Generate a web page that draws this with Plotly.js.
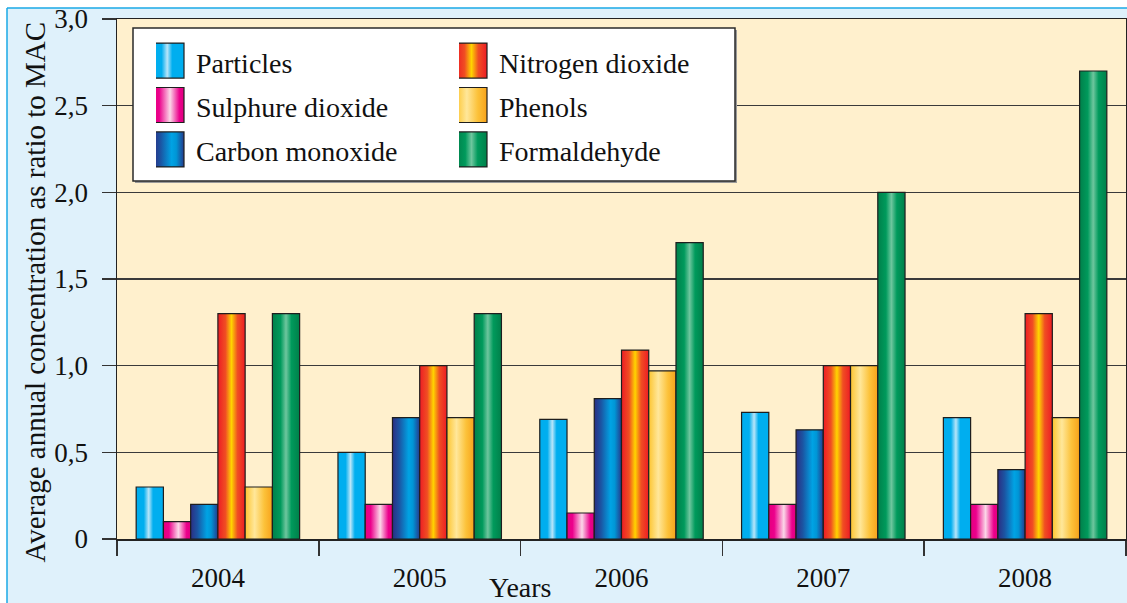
<!DOCTYPE html>
<html>
<head>
<meta charset="utf-8">
<script src="https://cdn.plot.ly/plotly-3.0.1.min.js"></script>
<style>
html,body{margin:0;padding:0;background:#ffffff;}
#chart{width:1127px;height:603px;}
</style>
</head>
<body>
<div id="chart"></div>
<script>
// ---------- data ----------
const years = ['2004', '2005', '2006', '2007', '2008'];
const seriesNames = ['Particles', 'Sulphure dioxide', 'Carbon monoxide', 'Nitrogen dioxide', 'Phenols', 'Formaldehyde'];
const particles       = [0.30, 0.50, 0.69, 0.73, 0.70];
const sulphurDioxide  = [0.10, 0.20, 0.15, 0.20, 0.20];
const carbonMonoxide  = [0.20, 0.70, 0.81, 0.63, 0.40];
const nitrogenDioxide = [1.30, 1.00, 1.09, 1.00, 1.30];
const phenols         = [0.30, 0.70, 0.97, 1.00, 0.70];
const formaldehyde    = [1.30, 1.30, 1.71, 2.00, 2.70];
const yTickValues = [0, 0.5, 1, 1.5, 2, 2.5, 3];
const yTickLabels = ['0', '0,5', '1,0', '1,5', '2,0', '2,5', '3,0'];
const yTitle = 'Average annual concentration as ratio to MAC';
const xTitle = 'Years';

// ---------- styles ----------
const FONT = '"Liberation Serif", "DejaVu Serif", serif';
const solidColors = ['#00aeef', '#ec008c', '#0a6cb4', '#f15a24', '#ffd75e', '#00965a'];
const gradientStops = [
  [[0, '#00aeef'], [0.28, '#00aeef'], [0.46, '#b8e5f9'], [0.62, '#00aeef'], [1, '#00aeef']],
  [[0, '#e6007e'], [0.2, '#ec008c'], [0.55, '#fbd7e8'], [0.85, '#ec008c'], [1, '#e0007f']],
  [[0, '#2b2e83'], [0.25, '#1b55a3'], [0.6, '#00a3e4'], [0.75, '#0096d6'], [1, '#253a8c']],
  [[0, '#ed1c24'], [0.28, '#f04e23'], [0.5, '#ffd400'], [0.72, '#f04e23'], [1, '#ed1c24']],
  [[0, '#fdc530'], [0.35, '#ffe79a'], [0.7, '#fcc23a'], [1, '#f7a21b']],
  [[0, '#00804a'], [0.3, '#009a5c'], [0.5, '#6ec69e'], [0.7, '#009a5c'], [1, '#00804a']]
];

const seriesValues = [particles, sulphurDioxide, carbonMonoxide, nitrogenDioxide, phenols, formaldehyde];

const traces = seriesValues.map((vals, i) => ({
  type: 'bar',
  x: years,
  y: vals,
  name: seriesNames[i],
  legend: i < 3 ? 'legend' : 'legend2',
  legendgroup: 'g' + i,
  marker: { color: solidColors[i], line: { color: '#1e1e1e', width: 1.2 } },
  hoverinfo: 'skip'
}));

// pixel helpers for paper coordinates (plot area: x 117..1126, y 19..539)
const PL = 117, PW = 1009, PB = 539, PH = 520;
const px = v => (v - PL) / PW;
const py = v => (PB - v) / PH;

const legendCommon = {
  xanchor: 'left', yanchor: 'top',
  bgcolor: 'rgba(0,0,0,0)', borderwidth: 0,
  font: { family: FONT, size: 28, color: '#111' },
  traceorder: 'grouped', tracegroupgap: 5
};

const layout = {
  width: 1127, height: 603,
  margin: { l: 117, r: 1, t: 19, b: 64 },
  paper_bgcolor: '#dff1fb',
  plot_bgcolor: '#fff0cd',
  font: { family: FONT, size: 27, color: '#111' },
  barmode: 'group', bargap: 0.19, bargroupgap: 0,
  showlegend: true,
  legend: Object.assign({ x: px(156), y: py(37) }, legendCommon),
  legend2: Object.assign({ x: px(459), y: py(37) }, legendCommon),
  xaxis: {
    type: 'category', tickson: 'boundaries',
    ticks: 'outside', ticklen: 15, tickwidth: 1.5, tickcolor: '#333',
    showline: true, linecolor: '#222', linewidth: 1.5, mirror: true,
    showgrid: false, zeroline: false,
    tickfont: { family: FONT, size: 27, color: '#111' },
    ticklabelstandoff: 14, fixedrange: true
  },
  yaxis: {
    range: [0, 3], tickvals: yTickValues, ticktext: yTickLabels,
    ticks: 'outside', ticklen: 14, tickwidth: 1.5, tickcolor: '#333',
    showline: true, linecolor: '#222', linewidth: 1.5, mirror: true,
    showgrid: true, gridcolor: '#3a3a3a', gridwidth: 1.4, zeroline: false,
    tickfont: { family: FONT, size: 27, color: '#111' },
    ticklabelstandoff: 8, fixedrange: true
  },
  shapes: [
    { type: 'rect', xref: 'paper', yref: 'paper', layer: 'below', x0: px(0), x1: px(1127), y0: py(8), y1: py(0), fillcolor: '#ffffff', line: { width: 0 } },
    { type: 'rect', xref: 'paper', yref: 'paper', layer: 'below', x0: px(0), x1: px(7), y0: py(603), y1: py(0), fillcolor: '#ffffff', line: { width: 0 } },
    { type: 'line', xref: 'paper', yref: 'paper', layer: 'below', x0: px(7), x1: px(1130), y0: py(8), y1: py(8), line: { color: '#1aa9e6', width: 1.5 } },
    { type: 'line', xref: 'paper', yref: 'paper', layer: 'below', x0: px(7), x1: px(7), y0: py(8), y1: py(606), line: { color: '#1aa9e6', width: 1.5 } },
    { type: 'rect', xref: 'paper', yref: 'paper', layer: 'above', x0: px(135), x1: px(737), y0: py(183), y1: py(30), fillcolor: '#9a9a9a', line: { width: 0 } },
    { type: 'rect', xref: 'paper', yref: 'paper', layer: 'above', x0: px(133), x1: px(735), y0: py(181), y1: py(28), fillcolor: '#ffffff', line: { color: '#2a2a2a', width: 1.5 } }
  ],
  annotations: [
    { text: yTitle, xref: 'paper', yref: 'paper', x: px(34), y: py(292.5), xanchor: 'center', yanchor: 'middle',
      textangle: -90, showarrow: false, font: { family: FONT, size: 29, color: '#111' } },
    { text: xTitle, xref: 'paper', yref: 'paper', x: px(520.5), y: py(587), xanchor: 'center', yanchor: 'middle',
      showarrow: false, font: { family: FONT, size: 28, color: '#111' } }
  ]
};

function decorate(gd) {
  const NS = 'http://www.w3.org/2000/svg';
  const svg = gd.querySelector('svg.main-svg');
  if (!svg) return;
  if (!document.getElementById('barGradDefs')) {
    const defs = document.createElementNS(NS, 'defs');
    defs.setAttribute('id', 'barGradDefs');
    gradientStops.forEach((stops, i) => {
      const lg = document.createElementNS(NS, 'linearGradient');
      lg.setAttribute('id', 'barGrad' + i);
      lg.setAttribute('x1', '0'); lg.setAttribute('y1', '0');
      lg.setAttribute('x2', '1'); lg.setAttribute('y2', '0');
      stops.forEach(([o, c]) => {
        const s = document.createElementNS(NS, 'stop');
        s.setAttribute('offset', o);
        s.setAttribute('stop-color', c);
        lg.appendChild(s);
      });
      defs.appendChild(lg);
    });
    svg.insertBefore(defs, svg.firstChild);
  }

  gd.querySelectorAll('.barlayer .trace').forEach((t, k) => {
    try {
      const d = t.__data__;
      const idx = (d && d[0] && d[0].trace) ? d[0].trace.index : k;
      t.querySelectorAll('path').forEach(p => { p.style.fill = 'url(#barGrad' + idx + ')'; });
    } catch (e) {}
  });

  gd.querySelectorAll('g.traces').forEach(item => {
    try {
      const d = item.__data__;
      const idx = (d && d[0] && d[0].trace) ? d[0].trace.index : null;
      const text = item.querySelector('text.legendtext') || item.querySelector('text');
      const paths = item.querySelectorAll('.legendpoints path');
      if (idx === null || !text || !paths.length) return;
      const bb = text.getBBox();
      const base = parseFloat(text.getAttribute('y')) || 0;
      const right = bb.x - 12, left = right - 31, cy = base - 12;
      paths.forEach(path => {
        path.removeAttribute('transform');
        path.setAttribute('d', 'M' + left + ',' + (cy - 17.5) + 'H' + right + 'V' + (cy + 17.5) + 'H' + left + 'Z');
        path.style.fill = 'url(#barGrad' + idx + ')';
        path.style.stroke = '#1e1e1e';
        path.style.strokeWidth = '1.2px';
      });
    } catch (e) {}
  });
}

const gd = document.getElementById('chart');
Plotly.newPlot(gd, traces, layout, { displayModeBar: false, staticPlot: true }).then(() => {
  decorate(gd);
  gd.on('plotly_afterplot', () => decorate(gd));
  setTimeout(() => decorate(gd), 100);
  setTimeout(() => decorate(gd), 400);
});
</script>
</body>
</html>
